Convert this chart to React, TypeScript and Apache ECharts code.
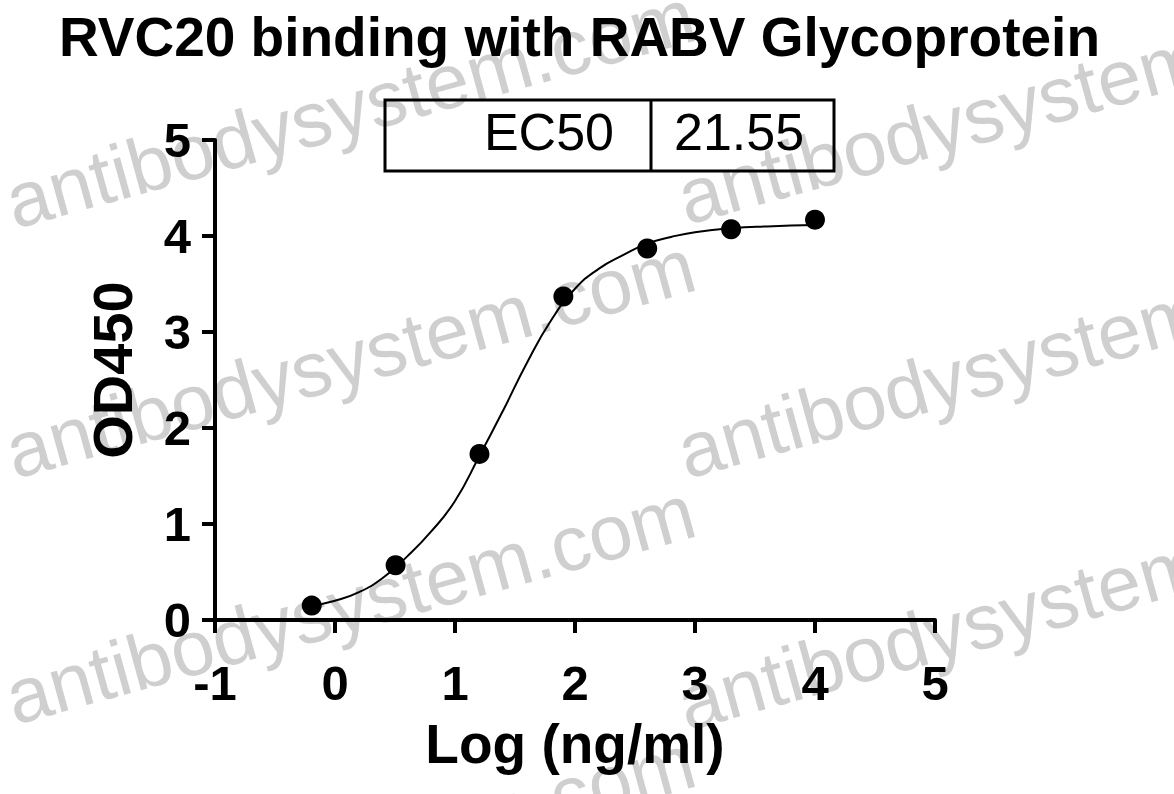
import React, { useEffect, useRef } from "react";
import * as echarts from "echarts";

// Measured points: log10 concentration (ng/ml) vs OD450
const logConc = [-0.194, 0.505, 1.204, 1.903, 2.602, 3.301, 4.0];
const od450 = [0.15, 0.57, 1.73, 3.37, 3.87, 4.07, 4.17];

// Fitted curve
const curveX = [-0.19, 0.0, 0.2, 0.4, 0.6, 0.8, 1.0, 1.2, 1.4, 1.6, 1.8, 2.0, 2.2, 2.4, 2.6, 2.8, 3.0, 3.3, 3.6, 4.0];
const curveY = [0.15, 0.2, 0.29, 0.44, 0.66, 0.92, 1.24, 1.7, 2.18, 2.68, 3.12, 3.45, 3.66, 3.8, 3.92, 3.99, 4.04, 4.08, 4.1, 4.115];

const xTicks = [-1, 0, 1, 2, 3, 4, 5];
const yTicks = [0, 1, 2, 3, 4, 5];

const titleText = "RVC20 binding with RABV Glycoprotein";
const xName = "Log (ng/ml)";
const yName = "OD450";
const ec50Label = "EC50";
const ec50Value = "21.55";
const watermarkLong = "antibodysystem.com";
const watermarkShort = "antibodysystem";

const FONT = "'Liberation Sans', Arial, Helvetica, sans-serif";

export default function App() {
  const ref = useRef<HTMLDivElement>(null);

  useEffect(() => {
    if (!ref.current) return;
    const chart = echarts.init(ref.current, null, { renderer: "svg" });
    const rot = (15.5 * Math.PI) / 180;
    const wm = (text: string, x: number, y: number) => ({
      type: "text",
      x,
      y,
      rotation: rot,
      z: -10,
      silent: true,
      style: {
        text,
        fill: "#cfcfcf",
        fontSize: 78,
        lineHeight: 64,
        fontFamily: FONT,
        textAlign: "left",
        textVerticalAlign: "bottom",
      },
    });

    chart.setOption({
      animation: false,
      backgroundColor: "#ffffff",
      title: {
        text: titleText,
        left: 54,
        top: 4,
        textStyle: {
          fontFamily: FONT,
          fontWeight: "bold",
          fontSize: 55,
          color: "#000",
        },
      },
      grid: { left: 215, right: 239, top: 140, bottom: 174, containLabel: false },
      xAxis: {
        type: "value",
        min: xTicks[0],
        max: xTicks[xTicks.length - 1],
        interval: 1,
        name: xName,
        nameLocation: "middle",
        nameGap: 96,
        nameTextStyle: { fontFamily: FONT, fontWeight: "bold", fontSize: 55, color: "#000" },
        axisLine: { show: true, onZero: false, lineStyle: { color: "#000", width: 4 } },
        axisTick: { show: true, inside: false, length: 13, lineStyle: { color: "#000", width: 4 } },
        axisLabel: { fontFamily: FONT, fontWeight: "bold", fontSize: 49, color: "#000", margin: 38 },
        splitLine: { show: false },
      },
      yAxis: {
        type: "value",
        min: yTicks[0],
        max: yTicks[yTicks.length - 1],
        interval: 1,
        axisLine: { show: true, onZero: false, lineStyle: { color: "#000", width: 4 } },
        axisTick: { show: true, inside: false, length: 13, lineStyle: { color: "#000", width: 4 } },
        axisLabel: { fontFamily: FONT, fontWeight: "bold", fontSize: 49, color: "#000", margin: 24 },
        splitLine: { show: false },
      },
      graphic: [
        wm(watermarkLong, 16, 234),
        wm(watermarkLong, 16, 484),
        wm(watermarkLong, 16, 730),
        wm(watermarkLong, 16, 980),
        wm(watermarkShort, 688, 230),
        wm(watermarkShort, 688, 484),
        wm(watermarkShort, 688, 736),
        {
          type: "text",
          x: 112,
          y: 370,
          rotation: Math.PI / 2,
          style: {
            text: yName,
            fontFamily: FONT,
            fontWeight: "bold",
            fontSize: 56,
            fill: "#000",
            textAlign: "center",
            textVerticalAlign: "middle",
          },
        },
        {
          type: "rect",
          z: 10,
          shape: { x: 385, y: 100, width: 449, height: 71 },
          style: { fill: "transparent", stroke: "#000", lineWidth: 3 },
        },
        {
          type: "line",
          z: 10,
          shape: { x1: 651, y1: 100, x2: 651, y2: 171 },
          style: { stroke: "#000", lineWidth: 3 },
        },
        {
          type: "text",
          z: 10,
          x: 614,
          y: 132,
          style: {
            text: ec50Label,
            fontFamily: FONT,
            fontSize: 52,
            fill: "#000",
            textAlign: "right",
            textVerticalAlign: "middle",
          },
        },
        {
          type: "text",
          z: 10,
          x: 674,
          y: 132,
          style: {
            text: ec50Value,
            fontFamily: FONT,
            fontSize: 52,
            fill: "#000",
            textAlign: "left",
            textVerticalAlign: "middle",
          },
        },
      ],
      series: [
        {
          type: "line",
          data: curveX.map((x, i) => [x, curveY[i]]),
          smooth: true,
          showSymbol: false,
          symbol: "none",
          lineStyle: { color: "#000", width: 2 },
          z: 3,
        },
        {
          type: "scatter",
          data: logConc.map((x, i) => [x, od450[i]]),
          symbol: "circle",
          symbolSize: 20,
          itemStyle: { color: "#000", opacity: 1 },
          z: 4,
        },
      ],
    });
    return () => chart.dispose();
  }, []);

  return (
    <div
      ref={ref}
      style={{ position: "absolute", left: 0, top: 0, width: 1174, height: 794 }}
    />
  );
}
